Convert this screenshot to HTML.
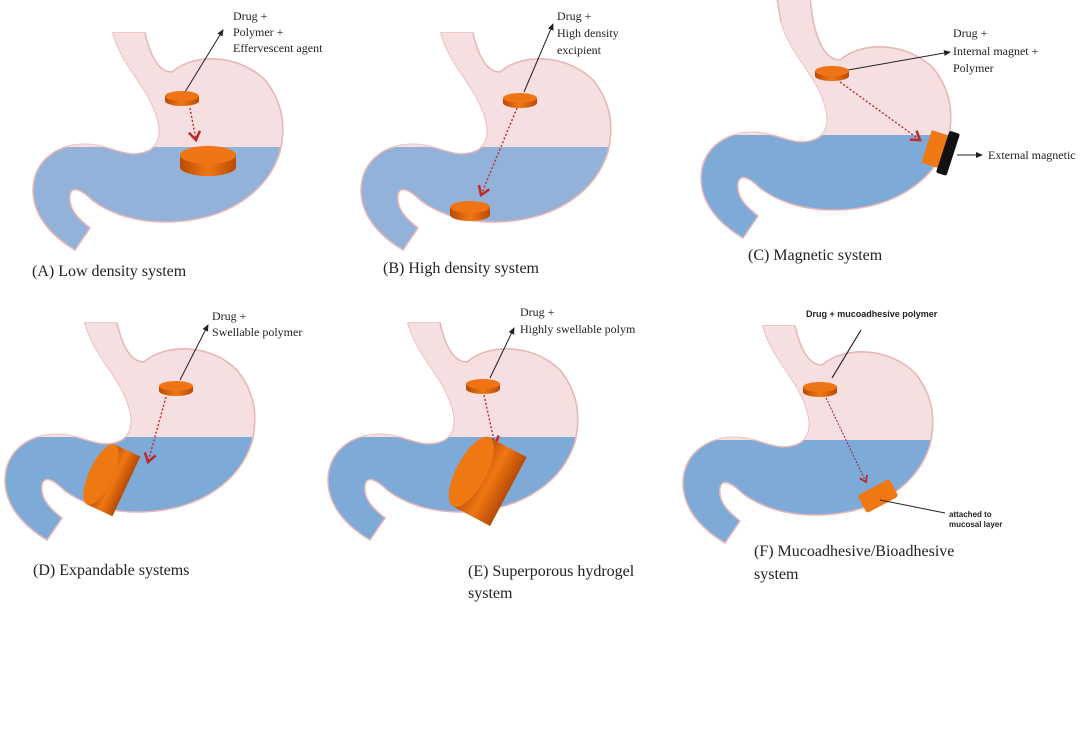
<!DOCTYPE html>
<html><head><meta charset="utf-8"><style>
html,body{margin:0;padding:0;background:#fff;}
svg{display:block;}
.s{font-family:"Liberation Serif",serif;fill:#222;}
</style></head><body>
<svg width="1090" height="730" viewBox="0 0 1090 730" xmlns="http://www.w3.org/2000/svg">
<defs>
<path id="st" d="M113,33 L145,33 C150,55 158,72 172,72 C195,52 240,55 265,80 C285,105 285,130 280,152 C268,190 230,220 170,222 C130,223 105,210 92,200 C82,190 72,185 70,195 C68,210 80,220 90,228 L75,250 C50,235 33,215 33,190 C33,160 60,140 95,145 C115,148 130,160 150,150 C165,140 160,120 150,100 C140,80 120,60 113,33 Z"/>
<clipPath id="top"><rect x="0" y="-40" width="400" height="187"/></clipPath>
<linearGradient id="og" x1="0" x2="1"><stop offset="0" stop-color="#b84a05"/><stop offset="0.5" stop-color="#f07812"/><stop offset="1" stop-color="#b84a05"/></linearGradient>
<marker id="ab" markerWidth="8" markerHeight="8" refX="6" refY="4" orient="auto"><path d="M0,1 L7,4 L0,7 Z" fill="#222"/></marker>
<marker id="ar" markerWidth="10" markerHeight="10" refX="7" refY="5" orient="auto"><path d="M1,1 L7,5 L1,9" fill="none" stroke="#c0282a" stroke-width="1.8"/></marker>
<g id="tab"><path d="M-17,0 L-17,5 A17,5 0 0 0 17,5 L17,0 Z" fill="url(#og)"/><ellipse cx="0" cy="0" rx="17" ry="5" fill="#ef7416"/></g>
</defs>

<!-- Panel A -->
<g>
<use href="#st" fill="#93b2d9" stroke="#e8b6b6" stroke-width="1.5"/>
<use href="#st" fill="#f6dfe0" clip-path="url(#top)"/>
<path d="M145,33 C150,55 158,72 172,72 C195,52 240,55 265,80 C285,105 285,130 280,152" fill="none" stroke="#e8b6b6" stroke-width="1.5"/>
<line x1="185" y1="92" x2="223" y2="30" stroke="#222" marker-end="url(#ab)"/>
<use href="#tab" x="182" y="96"/>
<line x1="190" y1="108" x2="196" y2="140" stroke="#c0282a" stroke-dasharray="2,2" stroke-width="1.4" marker-end="url(#ar)"/>
<path d="M180,155 L180,167 A28,9 0 0 0 236,167 L236,155 Z" fill="url(#og)"/><ellipse cx="208" cy="155" rx="28" ry="9" fill="#ef7416"/>
<text class="s" x="233" y="20" font-size="12">Drug +</text>
<text class="s" x="233" y="36" font-size="12">Polymer +</text>
<text class="s" x="233" y="52" font-size="12">Effervescent agent</text>
<text class="s" x="32" y="276" font-size="16">(A) Low density system</text>
</g>

<!-- Panel B -->
<g transform="translate(328,0)">
<use href="#st" fill="#93b2d9" stroke="#e8b6b6" stroke-width="1.5"/>
<use href="#st" fill="#f6dfe0" clip-path="url(#top)"/>
<path d="M145,33 C150,55 158,72 172,72 C195,52 240,55 265,80 C285,105 285,130 280,152" fill="none" stroke="#e8b6b6" stroke-width="1.5"/>
</g>
<line x1="524" y1="92" x2="553" y2="24" stroke="#222" marker-end="url(#ab)"/>
<use href="#tab" x="520" y="98"/>
<line x1="517" y1="108" x2="481" y2="195" stroke="#c0282a" stroke-dasharray="2,2" stroke-width="1.4" marker-end="url(#ar)"/>
<path d="M450,207 L450,215 A20,6 0 0 0 490,215 L490,207 Z" fill="url(#og)"/><ellipse cx="470" cy="207" rx="20" ry="6" fill="#ef7416"/>
<text class="s" x="557" y="20" font-size="12">Drug +</text>
<text class="s" x="557" y="37" font-size="12">High density</text>
<text class="s" x="557" y="54" font-size="12">excipient</text>
<text class="s" x="383" y="273" font-size="16">(B) High density system</text>

<!-- Panel C -->
<g transform="translate(668,-12)">
<use href="#st" fill="#7eaad8" stroke="#e8b6b6" stroke-width="1.5"/>
<use href="#st" fill="#f6dfe0" clip-path="url(#top)"/>
<path d="M113,34 L109,10 L142,10 L145,34 Z" fill="#f6dfe0"/>
<path d="M109,10 L113,34 M142,10 L145,33 C150,55 158,72 172,72 C195,52 240,55 265,80 C285,105 285,130 280,152" fill="none" stroke="#e8b6b6" stroke-width="1.5"/>
</g>
<line x1="848" y1="70" x2="950" y2="52" stroke="#222" marker-end="url(#ab)"/>
<use href="#tab" x="832" y="71"/>
<line x1="840" y1="82" x2="920" y2="140" stroke="#c0282a" stroke-dasharray="2,2" stroke-width="1.4" marker-end="url(#ar)"/>
<g transform="rotate(18 938 150)"><rect x="926" y="133" width="20" height="34" fill="#f07812"/><rect x="943" y="128" width="11" height="44" rx="2" fill="#111"/></g>
<line x1="957" y1="155" x2="982" y2="155" stroke="#222" marker-end="url(#ab)"/>
<text class="s" x="953" y="37" font-size="12">Drug +</text>
<text class="s" x="953" y="55" font-size="12">Internal magnet +</text>
<text class="s" x="953" y="72" font-size="12">Polymer</text>
<text class="s" x="988" y="159" font-size="12">External magnetic</text>
<text class="s" x="748" y="260" font-size="16">(C) Magnetic system</text>

<!-- Panel D -->
<g transform="translate(-28,290)">
<use href="#st" fill="#7eaad8" stroke="#e8b6b6" stroke-width="1.5"/>
<use href="#st" fill="#f6dfe0" clip-path="url(#top)"/>
<path d="M145,33 C150,55 158,72 172,72 C195,52 240,55 265,80 C285,105 285,130 280,152" fill="none" stroke="#e8b6b6" stroke-width="1.5"/>
</g>
<line x1="180" y1="380" x2="208" y2="325" stroke="#222" marker-end="url(#ab)"/>
<use href="#tab" x="176" y="386"/>
<line x1="166" y1="397" x2="148" y2="462" stroke="#c0282a" stroke-dasharray="2,2" stroke-width="1.4" marker-end="url(#ar)"/>
<g transform="rotate(25 115 480)"><rect x="100" y="448" width="28" height="66" fill="url(#og)"/><ellipse cx="100" cy="481" rx="12" ry="33" fill="#f07812"/></g>
<text class="s" x="212" y="320" font-size="12">Drug +</text>
<text class="s" x="212" y="336" font-size="12">Swellable  polymer</text>
<text class="s" x="33" y="575" font-size="16">(D) Expandable systems</text>

<!-- Panel E -->
<g transform="translate(295,290)">
<use href="#st" fill="#7eaad8" stroke="#e8b6b6" stroke-width="1.5"/>
<use href="#st" fill="#f6dfe0" clip-path="url(#top)"/>
<path d="M145,33 C150,55 158,72 172,72 C195,52 240,55 265,80 C285,105 285,130 280,152" fill="none" stroke="#e8b6b6" stroke-width="1.5"/>
</g>
<line x1="490" y1="378" x2="514" y2="328" stroke="#222" marker-end="url(#ab)"/>
<use href="#tab" x="483" y="384"/>
<line x1="484" y1="395" x2="495" y2="445" stroke="#c0282a" stroke-dasharray="2,2" stroke-width="1.4" marker-end="url(#ar)"/>
<g transform="rotate(28 485 478)"><rect x="470" y="440" width="42" height="78" fill="url(#og)"/><ellipse cx="470" cy="479" rx="15" ry="39" fill="#f07812"/></g>
<text class="s" x="520" y="316" font-size="12">Drug +</text>
<text class="s" x="520" y="333" font-size="12">Highly  swellable  polym</text>
<rect x="677" y="320" width="10" height="20" fill="#fff"/>
<text class="s" x="468" y="576" font-size="16">(E) Superporous hydrogel</text>
<text class="s" x="468" y="598" font-size="16">system</text>

<!-- Panel F -->
<g transform="translate(650,293)">
<use href="#st" fill="#7eaad8" stroke="#e8b6b6" stroke-width="1.5"/>
<use href="#st" fill="#f6dfe0" clip-path="url(#top)"/>
<path d="M145,33 C150,55 158,72 172,72 C195,52 240,55 265,80 C285,105 285,130 280,152" fill="none" stroke="#e8b6b6" stroke-width="1.5"/>
</g>
<line x1="861" y1="330" x2="832" y2="378" stroke="#222" stroke-width="1.2"/>
<use href="#tab" x="820" y="387"/>
<line x1="826" y1="398" x2="866" y2="482" stroke="#9a2040" stroke-dasharray="2,1.5" stroke-width="1" marker-end="url(#ar)"/>
<g transform="rotate(-28 878 496)"><rect x="860" y="486" width="36" height="20" rx="3" fill="#f07812"/></g>
<line x1="880" y1="500" x2="945" y2="513" stroke="#222" stroke-width="1"/>
<text x="806" y="317" font-size="9" font-weight="bold" font-family="Liberation Sans,sans-serif" fill="#222">Drug + mucoadhesive polymer</text>
<text x="949" y="517" font-size="8" font-weight="bold" font-family="Liberation Sans,sans-serif" fill="#222">attached to</text>
<text x="949" y="527" font-size="8" font-weight="bold" font-family="Liberation Sans,sans-serif" fill="#222">mucosal layer</text>
<text class="s" x="754" y="556" font-size="16">(F) Mucoadhesive/Bioadhesive</text>
<text class="s" x="754" y="579" font-size="16">system</text>
</svg>
</body></html>
